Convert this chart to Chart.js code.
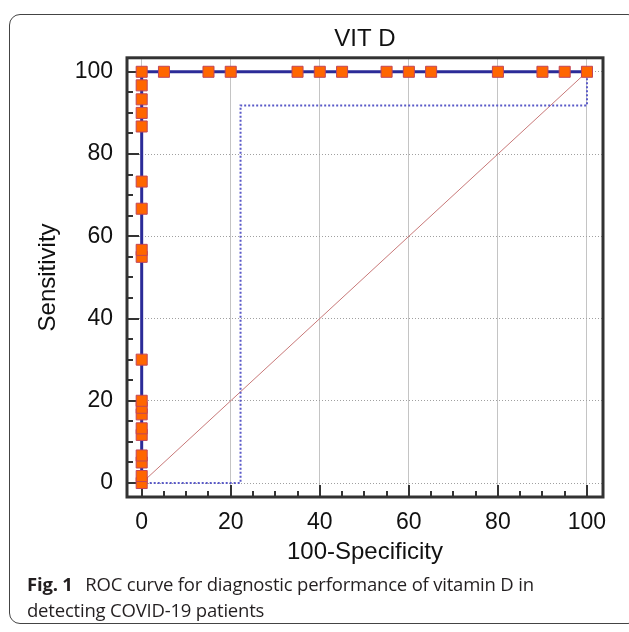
<!DOCTYPE html>
<html>
<head>
<meta charset="utf-8">
<script src="https://cdn.jsdelivr.net/npm/chart.js@4/dist/chart.umd.min.js"></script>
<style>
  html, body { margin:0; padding:0; background:#fff; width:629px; height:632px; overflow:hidden; }
  #card { position:absolute; left:9px; top:14px; width:630px; height:610px; border:1px solid #444; border-radius:11px; box-sizing:border-box; }
  #wrap { position:absolute; left:0; top:0; width:629px; height:575px; }
  #caption { position:absolute; left:27px; top:571px; width:598px; font-family:"Open Sans", "Noto Sans", sans-serif; font-size:18.5px; line-height:26px; color:#231f20; letter-spacing:-0.2px; }
  #caption b { font-weight:700; margin-right:8px; }
</style>
</head>
<body>
<div id="card"></div>
<div id="wrap"><canvas id="c" width="629" height="575"></canvas></div>
<div id="caption"><b>Fig. 1</b> ROC curve for diagnostic performance of vitamin D in<br>detecting COVID-19 patients</div>
<script>
// ---- data ----
const chartTitle = "VIT D";
const xTitle = "100-Specificity";
const yTitle = "Sensitivity";
const tickValues = [0, 20, 40, 60, 80, 100];
// ROC curve points (100-Specificity, Sensitivity)
const rocX = [0,0,0,0,0,0,0,0,0,0,0,0,0,0,0,0,0,0,0, 5,15,20,35,40,45,55,60,65,80,90,95,100];
const rocY = [0,1.7,5,6.7,11.7,13.3,16.7,18.3,20,30,55,56.7,66.7,73.3,86.7,90,93.3,96.7,100, 100,100,100,100,100,100,100,100,100,100,100,100,100];
// lower confidence bound (dotted)
const ciX = [0, 22.2, 22.2, 100, 100];
const ciY = [0, 0, 91.8, 91.8, 100];
// reference diagonal
const diagX = [0, 100];
const diagY = [0, 100];

const toPts = (xs, ys) => xs.map((x, i) => ({x: x, y: ys[i]}));

const frameTicks = {
  id: 'frameTicks',
  beforeDatasetsDraw(chart) {
    const {ctx, chartArea: a, scales: {x, y}} = chart;
    ctx.save();
    ctx.strokeStyle = '#333';
    ctx.lineWidth = 2;
    for (let v = 0; v <= 100; v += 5) {
      const len = (v % 20 === 0) ? 12 : 6;
      const px = Math.round(x.getPixelForValue(v));
      ctx.beginPath(); ctx.moveTo(px, a.bottom); ctx.lineTo(px, a.bottom - len); ctx.stroke();
      const py = Math.round(y.getPixelForValue(v));
      ctx.beginPath(); ctx.moveTo(a.left, py); ctx.lineTo(a.left + len, py); ctx.stroke();
    }
    ctx.lineWidth = 3;
    ctx.strokeRect(a.left, a.top, a.right - a.left, a.bottom - a.top);
    ctx.restore();
  }
};

new Chart(document.getElementById('c'), {
  type: 'scatter',
  data: {
    datasets: [
      { data: toPts(diagX, diagY), showLine: true, borderColor: '#c87878', borderWidth: 1, pointRadius: 0, order: 3 },
      { data: toPts(ciX, ciY), showLine: true, borderColor: '#5a5ac8', borderWidth: 2, borderDash: [2, 2], pointRadius: 0, order: 2 },
      { data: toPts(rocX, rocY), showLine: true, borderColor: '#2b2b98', borderWidth: 3,
        pointStyle: 'rect', pointRadius: 7.8, pointBackgroundColor: '#ff6600', pointBorderColor: '#c0455a', pointBorderWidth: 1, order: 1 }
    ]
  },
  options: {
    responsive: false,
    animation: false,
    events: [],
    layout: { padding: { left: 0, right: 26, top: 0, bottom: 0 } },
    plugins: {
      legend: { display: false },
      tooltip: { enabled: false },
      title: { display: true, text: chartTitle, fullSize: false, color: '#111',
        font: { family: '"Liberation Sans", Arial, sans-serif', size: 24, weight: 'normal' },
        padding: { top: 25, bottom: 4 } }
    },
    scales: {
      x: {
        type: 'linear', min: -3.3, max: 103.6,
        afterBuildTicks: s => { s.ticks = tickValues.map(v => ({value: v})); },
        afterFit: s => { s.height = 78; },
        grid: { color: '#c4c4c4', lineWidth: 1, drawTicks: false },
        border: { display: false },
        ticks: { color: '#111', padding: 12, font: { family: '"Liberation Sans", Arial, sans-serif', size: 23 } },
        title: { display: true, text: xTitle, color: '#111', padding: { top: 0, bottom: 8 },
          font: { family: '"Liberation Sans", Arial, sans-serif', size: 24 } }
      },
      y: {
        type: 'linear', min: -3.4, max: 103.4,
        afterBuildTicks: s => { s.ticks = tickValues.map(v => ({value: v})); },
        afterFit: s => { s.width = 127; },
        grid: { color: '#a0a0a0', lineWidth: 1, drawTicks: false },
        border: { display: false, dash: [1, 2] },
        ticks: { color: '#111', padding: 14, font: { family: '"Liberation Sans", Arial, sans-serif', size: 23 } },
        title: { display: true, text: yTitle, color: '#111', padding: { top: 34, bottom: 0 },
          font: { family: '"Liberation Sans", Arial, sans-serif', size: 24 } }
      }
    }
  },
  plugins: [frameTicks]
});
</script>
</body>
</html>
